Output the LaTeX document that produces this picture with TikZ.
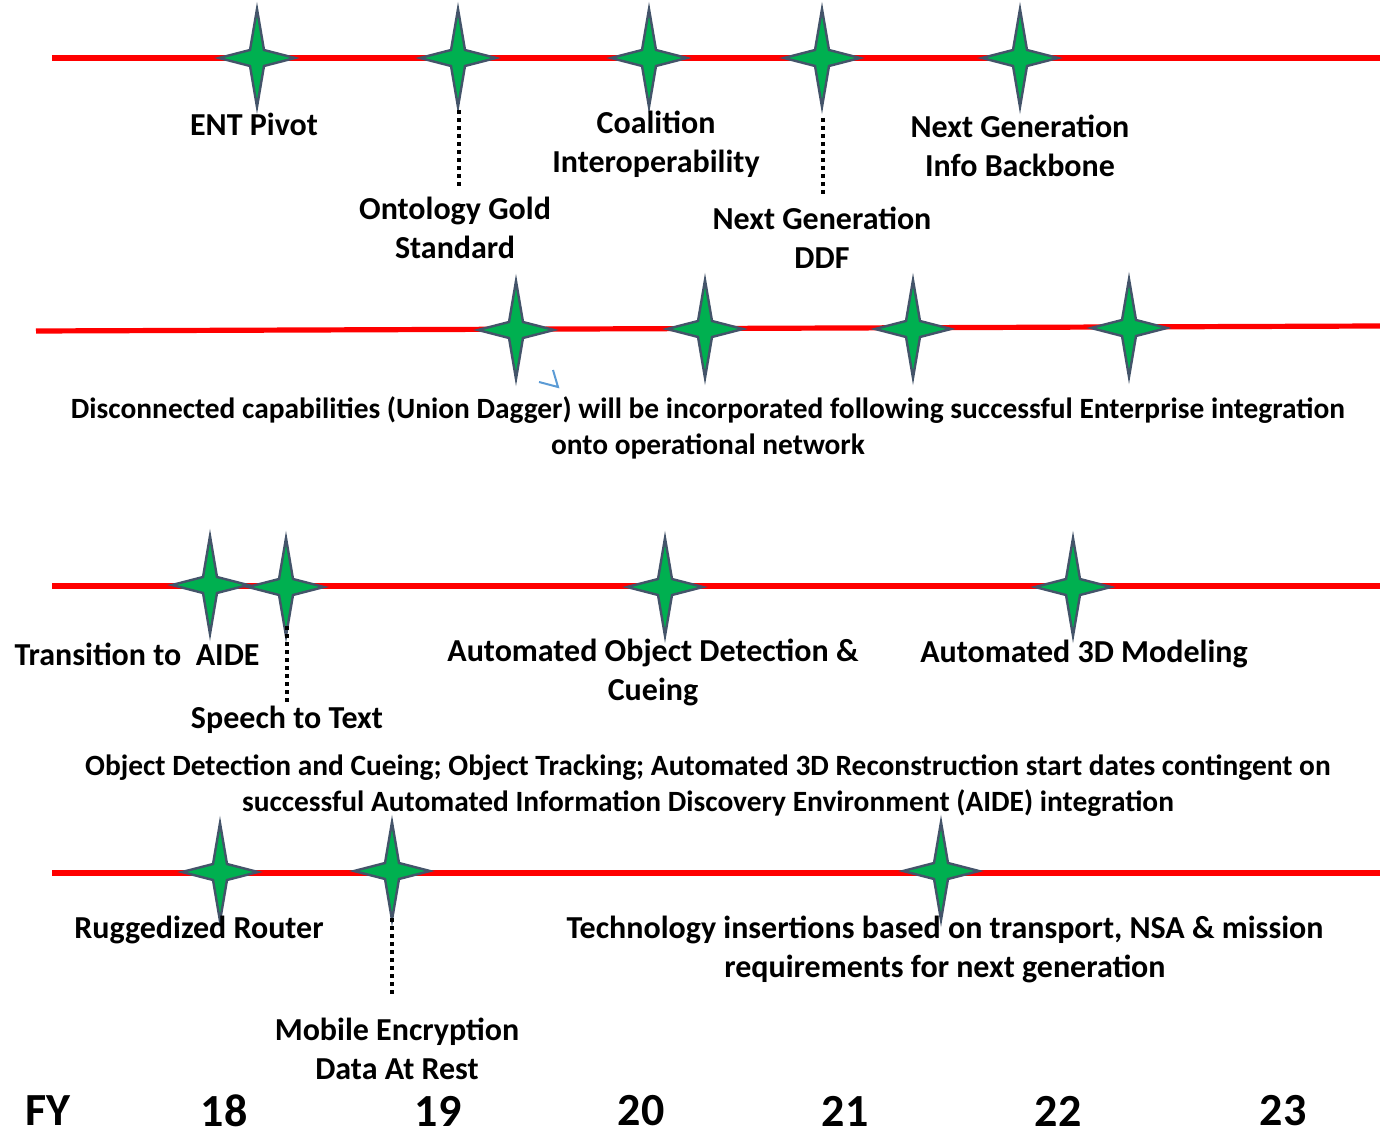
\documentclass[tikz,border=0pt]{standalone}
\usepackage{fontspec}
\setmainfont{Carlito}
\definecolor{stargreen}{HTML}{00B050}
\definecolor{starline}{HTML}{44546A}
\definecolor{tlred}{HTML}{FF0000}
\definecolor{markblue}{HTML}{5B9BD5}
\begin{document}
\begin{tikzpicture}[x=0.5pt,y=-0.5pt,
  tline/.style={draw=tlred,line width=2.6pt},
  dots/.style={draw=black,line width=2pt,dash pattern=on 2pt off 2pt},
  lbl/.style={font=\fontsize{16}{19.5}\selectfont\bfseries,align=center,inner sep=0pt,anchor=center},
  para/.style={font=\fontsize{14.7}{18}\selectfont\bfseries,align=center,inner sep=0pt,anchor=center},
  fy/.style={font=\fontsize{23}{26}\selectfont\bfseries,inner sep=0pt,anchor=center},
  fourstar/.pic={\path[fill=stargreen,draw=starline,line width=1.2pt,line join=miter]
     (0,-49) -- (7,-8) -- (38,0) -- (7,8) -- (0,49) -- (-7,8) -- (-38,0) -- (-7,-8) -- cycle;}
]
\useasboundingbox (0,0) rectangle (1380,1133);
% timelines
\coordinate (t1a) at (52,58);  \coordinate (t1b) at (1380,58);
\coordinate (t2a) at (36,331); \coordinate (t2b) at (1380,326);
\coordinate (t3a) at (52,586); \coordinate (t3b) at (1380,586);
\coordinate (t4a) at (52,873); \coordinate (t4b) at (1380,873);
\draw[tline] (t1a) -- (t1b);
\draw[tline] (t2a) -- (t2b);
\draw[tline] (t3a) -- (t3b);
\draw[tline] (t4a) -- (t4b);
% stars row 1
\pic at (257,58) {fourstar};
\pic at (458,58) {fourstar};
\pic at (649,58) {fourstar};
\pic at (822,58) {fourstar};
\pic at (1020,58) {fourstar};
% row 2
\pic at (516,330) {fourstar};
\pic at (705,329) {fourstar};
\pic at (913,329) {fourstar};
\pic at (1129,328) {fourstar};
% row 3
\pic at (210,585) {fourstar};
\pic at (286,587) {fourstar};
\pic at (665,587) {fourstar};
\pic at (1073,587) {fourstar};
% row 4
\pic at (220,872) {fourstar};
\pic at (392,871) {fourstar};
\pic at (941,871) {fourstar};
% dotted leaders
\coordinate (d1a) at (459,110); \coordinate (d1b) at (459,187);
\coordinate (d2a) at (823,118); \coordinate (d2b) at (823,197);
\coordinate (d3a) at (287,626); \coordinate (d3b) at (287,702);
\coordinate (d4a) at (392,918); \coordinate (d4b) at (392,997);
\draw[dots] (d1a) -- (d1b);
\draw[dots] (d2a) -- (d2b);
\draw[dots] (d3a) -- (d3b);
\draw[dots] (d4a) -- (d4b);
% blue mark
\coordinate (bm1) at (553,370); \coordinate (bm2) at (558,387); \coordinate (bm3) at (539,382);
\draw[markblue,line width=1pt] (bm1) -- (bm2) -- (bm3);
% labels row 1
\node[lbl] (l1) at (254,124) {ENT Pivot};
\node[lbl] (l2) at (656,144) {Coalition\\Interoperability};
\node[lbl] (l3) at (1020,146) {Next Generation\\Info Backbone};
\node[lbl] (l4) at (455,228) {Ontology Gold\\Standard};
\node[lbl] (l5) at (822,238) {Next Generation\\DDF};
\node[para] (p1) at (708,428) {Disconnected capabilities (Union Dagger) will be incorporated following successful Enterprise integration\\onto operational network};
% row 3 labels
\node[lbl] (l6) at (137,654) {Transition to\ \ AIDE};
\node[lbl] (l7) at (287,720) {Speech to Text};
\node[lbl] (l8) at (653,672) {Automated Object Detection \&\\Cueing};
\node[lbl] (l9) at (1084,654) {Automated 3D Modeling};
\node[para] (p2) at (708,786) {Object Detection and Cueing; Object Tracking; Automated 3D Reconstruction start dates contingent on\\successful Automated Information Discovery Environment (AIDE) integration};
% row 4 labels
\node[lbl] (l10) at (199,930) {Ruggedized Router};
\node[lbl] (l11) at (945,949) {Technology insertions based on transport, NSA \& mission\\requirements for next generation};
\node[lbl] (l12) at (397,1049) {Mobile Encryption\\Data At Rest};
% FY axis
\node[fy] (fy) at (48,1111) {FY};
\node[fy] (y18) at (224,1111) {18};
\node[fy] (y19) at (438,1111) {19};
\node[fy] (y20) at (641,1111) {20};
\node[fy] (y21) at (845,1111) {21};
\node[fy] (y22) at (1058,1111) {22};
\node[fy] (y23) at (1283,1111) {23};
\end{tikzpicture}
\end{document}
